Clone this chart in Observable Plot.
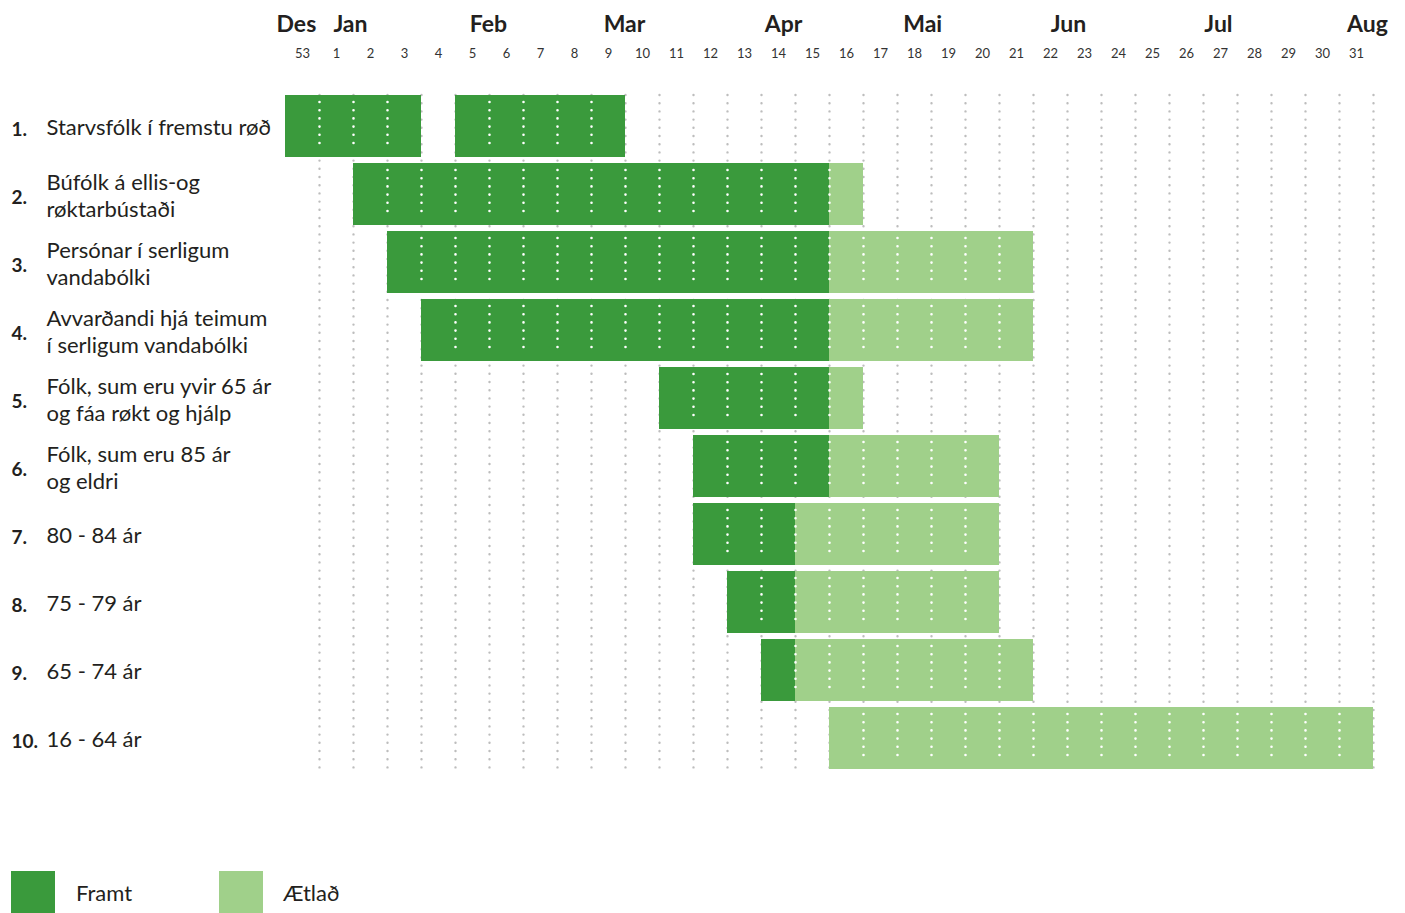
<!DOCTYPE html>
<html><head><meta charset="utf-8">
<script src="https://cdn.jsdelivr.net/npm/d3@7"></script>
<script src="https://cdn.jsdelivr.net/npm/@observablehq/plot@0.6"></script>
<style>
body{margin:0;background:#fff;font-family:Lato,"Open Sans",sans-serif;color:#231f20;}
#legend{position:relative;height:47px;margin-top:5px;}
.sw{position:absolute;top:0;width:44px;height:44px;}
.lb{position:absolute;top:0;height:44px;line-height:44px;font-size:22px;color:#231f20;}
</style></head><body>
<div id="chart"></div>
<div id="legend"></div>
<script>
const weeks = ["53","1","2","3","4","5","6","7","8","9","10","11","12","13","14","15","16","17","18","19","20","21","22","23","24","25","26","27","28","29","30","31"];
const months = ["Des","Jan","Feb","Mar","Apr","Mai","Jun","Jul","Aug"];
const monthAt = [0.32, 1.91, 5.97, 9.97, 14.65, 18.74, 23.03, 27.44, 31.82];
const rowNumbers = ["1.","2.","3.","4.","5.","6.","7.","8.","9.","10."];
const rowLabels = [
  "Starvsfólk í fremstu røð",
  "Búfólk á ellis-og\nrøktarbústaði",
  "Persónar í serligum\nvandabólki",
  "Avvarðandi hjá teimum\ní serligum vandabólki",
  "Fólk, sum eru yvir 65 ár\nog fáa røkt og hjálp",
  "Fólk, sum eru 85 ár\nog eldri",
  "80 - 84 ár",
  "75 - 79 ár",
  "65 - 74 ár",
  "16 - 64 ár"
];
const statuses = ["Framt","Ætlað"];
const statusColors = ["#3a9a3c","#a0d08a"];
const barRow    = [1,1,2,2,3,3,4,4,5,5,6,6,7,7,8,8,9,9,10];
const barStatus = ["Framt","Framt","Framt","Ætlað","Framt","Ætlað","Framt","Ætlað","Framt","Ætlað","Framt","Ætlað","Framt","Ætlað","Framt","Ætlað","Framt","Ætlað","Ætlað"];
const barFrom   = ["53","5","2","16","3","16","4","16","11","16","12","16","12","15","13","15","14","15","16"];
const barTo     = ["3","9","15","16","15","21","15","21","15","16","15","20","14","20","14","20","14","21","31"];

const rows = rowLabels.map((label, i) => ({row: i + 1, num: rowNumbers[i], label}));
const bars = barRow.map((r, i) => ({
  row: r,
  status: barStatus[i],
  x1: weeks.indexOf(barFrom[i]),
  x2: weeks.indexOf(barTo[i]) + 1
}));
// white dotted lines inside bars
const inner = [];
bars.forEach(b => {
  const joined = bars.some(o => o !== b && o.row === b.row && o.x2 === b.x1);
  for (let c = b.x1 + (joined ? 0 : 1); c < b.x2; c++) inner.push({row: b.row, x: c});
});
const weekTicks = weeks.map((w, i) => ({w, x: i + 0.5}));
const boundaries = d3.range(1, weeks.length + 1);
const monthData = months.map((m, i) => ({m, x: monthAt[i]}));

const font = "Lato, 'Open Sans', sans-serif";
const chart = Plot.plot({
  width: 1405,
  height: 866,
  marginLeft: 285,
  marginRight: 32,
  marginTop: 95,
  marginBottom: 97,
  style: {fontFamily: font, color: "#231f20", background: "#fff"},
  x: {domain: [0, weeks.length], axis: null},
  y: {domain: rows.map(d => d.row), axis: null, paddingInner: 6 / 68, paddingOuter: 0},
  color: {domain: statuses, range: statusColors},
  marks: [
    Plot.ruleX(boundaries, {x: d => d, stroke: "#bdbdbd", strokeWidth: 2.4, strokeDasharray: "0,8.2", strokeLinecap: "round"}),
    Plot.barX(bars, {x1: "x1", x2: "x2", y: "row", fill: "status"}),
    Plot.tickX(inner, {x: "x", y: "row", stroke: "#fff", strokeWidth: 2.6, strokeDasharray: "0,8.2", strokeLinecap: "round", insetTop: 7, insetBottom: 6}),
    Plot.text(weekTicks, {x: "x", text: "w", frameAnchor: "top", lineAnchor: "middle", dy: -42, fontSize: 13, fill: "#333"}),
    Plot.text(monthData, {x: "x", text: "m", frameAnchor: "top", lineAnchor: "middle", dy: -71, fontSize: 23, fontWeight: "bold", fill: "#231f20"}),
    Plot.text(rows, {y: "row", text: "label", frameAnchor: "left", dx: -239, textAnchor: "start", fontSize: 22, lineHeight: 1.23, fill: "#231f20"}),
    Plot.text(rows, {y: "row", text: "num", frameAnchor: "left", dx: -274, dy: 3, textAnchor: "start", fontSize: 19, fontWeight: "bold", fill: "#231f20"})
  ]
});
document.getElementById("chart").appendChild(chart);

const legend = document.getElementById("legend");
const swX = [11, 219], lbX = [76, 283];
statuses.forEach((s, i) => {
  const sw = document.createElement("div");
  sw.className = "sw"; sw.style.left = swX[i] + "px"; sw.style.background = statusColors[i];
  const lb = document.createElement("div");
  lb.className = "lb"; lb.style.left = lbX[i] + "px"; lb.textContent = s;
  legend.appendChild(sw); legend.appendChild(lb);
});
</script>
</body></html>
